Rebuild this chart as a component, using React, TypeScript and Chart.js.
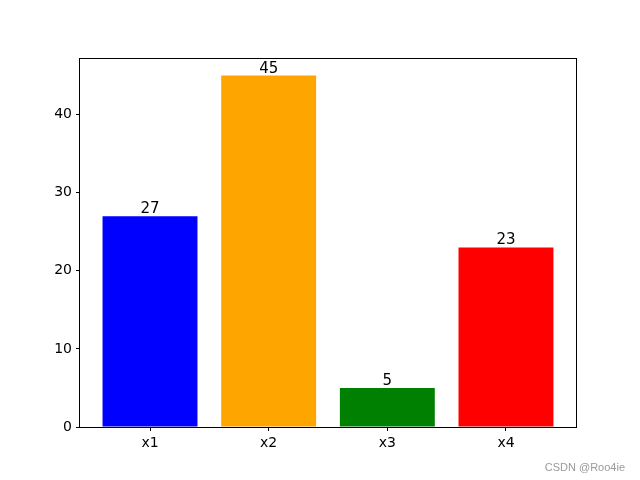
import React, { useEffect, useRef } from 'react';
import { Chart, registerables } from 'chart.js';

Chart.register(...registerables);

const categories = ['x1', 'x2', 'x3', 'x4'];
const values = [27, 45, 5, 23];
const barColors = ['#0000ff', '#ffa500', '#008000', '#ff0000'];
const yTicks = [0, 10, 20, 30, 40];
const yMax = 47.25;
const xMin = -0.59;
const xMax = 3.59;
const watermark = 'CSDN @Roo4ie';

const FONT = "'DejaVu Sans', sans-serif";

export default function App() {
  const ref = useRef<HTMLCanvasElement>(null);

  useEffect(() => {
    const canvas = ref.current;
    if (!canvas) return;

    const framePlugin = {
      id: 'frame',
      afterDraw(chart: any) {
        const { ctx, chartArea } = chart;
        ctx.save();
        ctx.strokeStyle = '#000';
        ctx.lineWidth = 1;
        ctx.strokeRect(
          Math.round(chartArea.left) - 0.5,
          Math.round(chartArea.top) + 0.5,
          Math.round(chartArea.right - chartArea.left) + 1,
          Math.round(chartArea.bottom - chartArea.top) - 0
        );
        ctx.restore();
      },
    };

    const labelPlugin = {
      id: 'barLabels',
      afterDatasetsDraw(chart: any) {
        const { ctx } = chart;
        const meta = chart.getDatasetMeta(0);
        ctx.save();
        ctx.fillStyle = '#000';
        ctx.font = `15px ${FONT}`;
        ctx.textAlign = 'center';
        ctx.textBaseline = 'alphabetic';
        meta.data.forEach((bar: any, i: number) => {
          ctx.fillText(String(values[i]), bar.x, bar.y - 3);
        });
        ctx.restore();
      },
    };

    const watermarkPlugin = {
      id: 'watermark',
      afterDraw(chart: any) {
        const { ctx } = chart;
        ctx.save();
        ctx.fillStyle = '#9a9a9a';
        ctx.font = `11px 'Liberation Sans', Arial, sans-serif`;
        ctx.textAlign = 'right';
        ctx.textBaseline = 'alphabetic';
        ctx.fillText(watermark, 625, 471);
        ctx.restore();
      },
    };

    const chart = new Chart(canvas, {
      type: 'bar',
      data: {
        datasets: [
          {
            data: values.map((v, i) => ({ x: i, y: v })),
            backgroundColor: barColors,
            borderWidth: 0,
            inflateAmount: 0,
            barPercentage: 0.8,
            categoryPercentage: 1,
          },
        ],
      },
      options: {
        responsive: false,
        animation: false,
        layout: { padding: { top: 58, right: 64, left: 0, bottom: 0 } },
        plugins: {
          legend: { display: false },
          title: { display: false },
          tooltip: { enabled: false },
        },
        scales: {
          x: {
            type: 'linear',
            min: xMin,
            max: xMax,
            offset: false,
            afterBuildTicks(scale: any) {
              scale.ticks = categories.map((_, i) => ({ value: i }));
            },
            afterFit(scale: any) {
              scale.height = 53;
            },
            grid: {
              display: true,
              offset: false,
              drawOnChartArea: false,
              drawTicks: true,
              tickLength: 4,
              tickColor: '#000',
              color: '#000',
            },
            border: { display: false },
            ticks: {
              color: '#000',
              padding: 4,
              maxRotation: 0,
              autoSkip: false,
              font: { family: FONT, size: 14 },
              callback: (v: any) => categories[Number(v)] ?? '',
            },
          },
          y: {
            type: 'linear',
            min: 0,
            max: yMax,
            afterBuildTicks(scale: any) {
              scale.ticks = yTicks.map((v) => ({ value: v }));
            },
            afterFit(scale: any) {
              scale.width = 80;
            },
            grid: {
              display: true,
              offset: false,
              drawOnChartArea: false,
              drawTicks: true,
              tickLength: 4,
              tickColor: '#000',
              color: '#000',
            },
            border: { display: false },
            ticks: {
              color: '#000',
              padding: 4,
              font: { family: FONT, size: 14 },
            },
          },
        },
      },
      plugins: [framePlugin, labelPlugin, watermarkPlugin],
    });

    return () => chart.destroy();
  }, []);

  return (
    <div style={{ position: 'absolute', left: 0, top: 0, width: 640, height: 480, background: '#fff' }}>
      <canvas ref={ref} width={640} height={480} style={{ display: 'block' }} />
    </div>
  );
}
